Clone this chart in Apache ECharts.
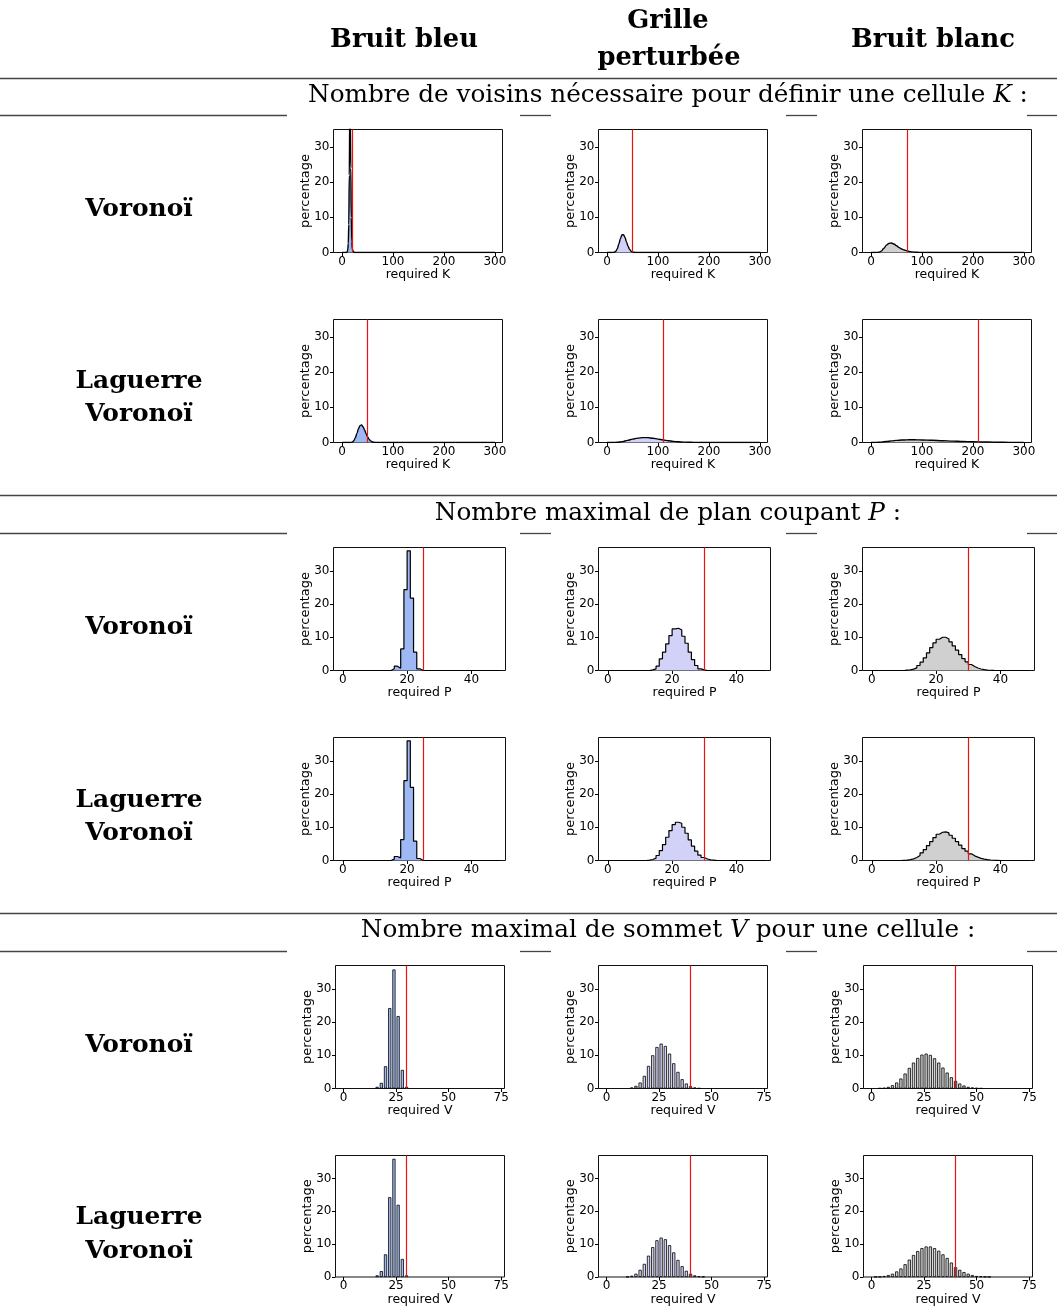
<!DOCTYPE html>
<html><head><meta charset="utf-8">
<script src="https://cdn.jsdelivr.net/npm/echarts@6/dist/echarts.min.js"></script>
<style>html,body{margin:0;padding:0;background:#fff;}#c{width:1057px;height:1307px;}</style>
</head><body><div id="c"></div>
<script>
// ---------- DATA ----------
const HEADERS = ['Bruit bleu', 'Grille', 'perturbée', 'Bruit blanc'];
const TITLES = [
  ['Nombre de voisins nécessaire pour définir une cellule ', 'K', ' :'],
  ['Nombre maximal de plan coupant ', 'P', ' :'],
  ['Nombre maximal de sommet ', 'V', ' pour une cellule :']
];
const ROW_LABELS = ['Voronoï', 'Laguerre', 'Voronoï'];

const K_TICKS = [0, 100, 200, 300];
const P_TICKS = [0, 20, 40];
const V_TICKS = [0, 25, 50, 75];
const Y_TICKS = [0, 10, 20, 30];

// K curves (required K -> percentage)
const K_VOR_BLEU_X = [0, 5, 8, 10, 11, 12, 13, 14, 15, 16, 17, 18, 19, 20, 22, 25, 40, 100, 200, 300];
const K_VOR_BLEU_Y = [0, 0, 0, 0.2, 0.8, 2.5, 8, 22, 40, 38, 24, 10, 3, 1, 0.2, 0, 0, 0, 0, 0];
const K_VOR_PERT_X = [0, 10, 14, 17, 20, 23, 26, 29, 32, 35, 38, 41, 44, 47, 50, 55, 60, 100, 200, 300];
const K_VOR_PERT_Y = [0, 0, 0.05, 0.35, 1.1, 2.4, 3.9, 5.0, 5.1, 4.3, 3.0, 1.8, 0.9, 0.35, 0.12, 0.02, 0, 0, 0, 0];
const K_VOR_BLANC_X = [0, 10, 15, 20, 25, 30, 35, 40, 45, 50, 55, 60, 65, 70, 75, 80, 90, 100, 200, 300];
const K_VOR_BLANC_Y = [0, 0, 0.05, 0.4, 1.2, 2.1, 2.6, 2.7, 2.4, 1.9, 1.4, 1.0, 0.7, 0.5, 0.3, 0.18, 0.05, 0, 0, 0];
const K_LAG_BLEU_X = [0, 15, 20, 23, 26, 29, 32, 35, 38, 41, 44, 47, 50, 53, 56, 60, 65, 100, 200, 300];
const K_LAG_BLEU_Y = [0, 0, 0.1, 0.5, 1.4, 2.6, 3.9, 4.8, 5.0, 4.5, 3.6, 2.5, 1.6, 0.9, 0.45, 0.15, 0.03, 0, 0, 0];
const K_LAG_PERT_X = [0, 10, 20, 30, 40, 50, 60, 70, 80, 90, 100, 110, 120, 130, 140, 150, 160, 170, 180, 200, 300];
const K_LAG_PERT_Y = [0, 0, 0.05, 0.25, 0.6, 0.95, 1.25, 1.4, 1.38, 1.2, 0.97, 0.72, 0.5, 0.33, 0.2, 0.12, 0.07, 0.04, 0.02, 0, 0];
const K_LAG_BLANC_X = [0, 10, 20, 30, 40, 50, 60, 70, 80, 90, 100, 120, 140, 160, 180, 200, 220, 240, 260, 280, 300];
const K_LAG_BLANC_Y = [0, 0.03, 0.12, 0.28, 0.45, 0.6, 0.7, 0.76, 0.78, 0.76, 0.72, 0.62, 0.5, 0.4, 0.3, 0.22, 0.15, 0.1, 0.06, 0.03, 0.02];

// P histograms: [bin start, percentage]
const P_VOR_BLEU = [[15,0.5],[16,1.3],[17,0.7],[18,6.5],[19,24.3],[20,36],[21,21.8],[22,5.5],[23,0.5]];
const P_VOR_PERT = [[13,0.2],[14,0.5],[15,1.3],[16,3.5],[17,5.5],[18,8],[19,10.5],[20,12.5],[21,12.7],[22,12.2],[23,10.3],[24,8.2],[25,5.5],[26,3.3],[27,1.5],[28,0.5],[29,0.2]];
const P_VOR_BLANC = [[10,0.1],[11,0.2],[12,0.4],[13,0.8],[14,1.5],[15,2.5],[16,3.8],[17,5.3],[18,6.9],[19,8.3],[20,9.4],[21,10.0],[22,10.0],[23,9.5],[24,8.6],[25,7.4],[26,6.1],[27,4.8],[28,3.6],[29,2.6],[30,1.8],[31,1.2],[32,0.75],[33,0.45],[34,0.25],[35,0.14],[36,0.07],[37,0.03]];
const P_LAG_BLEU = [[15,0.4],[16,1.2],[17,0.8],[18,6.3],[19,24],[20,36],[21,22],[22,5.8],[23,0.6]];
const P_LAG_PERT = [[12,0.1],[13,0.3],[14,0.7],[15,1.5],[16,3.0],[17,4.8],[18,7.0],[19,9.0],[20,10.8],[21,11.5],[22,11.2],[23,10.0],[24,8.2],[25,6.2],[26,4.3],[27,2.8],[28,1.6],[29,0.9],[30,0.45],[31,0.2],[32,0.1]];
const P_LAG_BLANC = [[9,0.05],[10,0.1],[11,0.25],[12,0.5],[13,0.9],[14,1.5],[15,2.3],[16,3.3],[17,4.5],[18,5.7],[19,6.9],[20,7.9],[21,8.5],[22,8.6],[23,8.3],[24,7.6],[25,6.7],[26,5.7],[27,4.6],[28,3.6],[29,2.8],[30,2.0],[31,1.4],[32,1.0],[33,0.65],[34,0.4],[35,0.25],[36,0.15],[37,0.08],[38,0.04]];
const P_BIN_COUNT = 49;

// V histograms: [vertex count, percentage]
const V_VOR_BLEU = [[16,0.5],[18,1.7],[20,6.7],[22,24.2],[24,35.8],[26,21.8],[28,5.6],[30,0.5]];
const V_VOR_PERT = [[12,0.3],[14,0.8],[16,1.8],[18,3.8],[20,6.8],[22,10],[24,12.5],[26,13.5],[28,12.8],[30,10.5],[32,7.6],[34,5],[36,2.8],[38,1.5],[40,0.7],[42,0.3],[44,0.1]];
const V_VOR_BLANC = [[4,0.1],[6,0.2],[8,0.5],[10,1.0],[12,1.8],[14,3.0],[16,4.5],[18,6.2],[20,7.8],[22,9.2],[24,10.2],[26,10.5],[28,10.1],[30,9.1],[32,7.8],[34,6.3],[36,4.8],[38,3.4],[40,2.3],[42,1.5],[44,0.9],[46,0.5],[48,0.3],[50,0.15],[52,0.08]];
const V_LAG_BLEU = [[16,0.5],[18,1.8],[20,6.9],[22,24.3],[24,36],[26,22],[28,5.5],[30,0.5]];
const V_LAG_PERT = [[10,0.1],[12,0.4],[14,1.0],[16,2.2],[18,4.0],[20,6.5],[22,9.1],[24,11.2],[26,12.0],[28,11.5],[30,9.7],[32,7.5],[34,5.2],[36,3.3],[38,1.9],[40,1.0],[42,0.5],[44,0.2],[46,0.1]];
const V_LAG_BLANC = [[2,0.05],[4,0.1],[6,0.3],[8,0.6],[10,1.0],[12,1.7],[14,2.6],[16,3.9],[18,5.3],[20,6.7],[22,7.9],[24,8.8],[26,9.3],[28,9.3],[30,8.8],[32,8.0],[34,6.9],[36,5.8],[38,4.4],[40,3.0],[42,2.2],[44,1.5],[46,1.0],[48,0.6],[50,0.3],[52,0.2],[54,0.1],[56,0.05]];

// red threshold lines
const K_LIMITS_VOR = [20, 50, 70];
const K_LIMITS_LAG = [50, 110, 210];
const P_LIMITS_VOR = [25, 30, 30];
const P_LIMITS_LAG = [25, 30, 30];
const V_LIMITS_VOR = [30, 40, 40];
const V_LIMITS_LAG = [30, 40, 40];

// ---------- LAYOUT / STYLE ----------
const FILL = ['#9db8f3', '#d2d2f8', '#d0d0d0'];
const SECT = {
  K: {tops: [129, 319], h: 123, lefts: [333, 598, 862], w: 169, xmin: -17, xmax: 315, ymax: 35, ticks: K_TICKS, name: 'required K'},
  P: {tops: [547, 737], h: 123, lefts: [333, 598, 862], w: 172, xmin: -2.9, xmax: 50.6, ymax: 37, ticks: P_TICKS, name: 'required P'},
  V: {tops: [965, 1155], h: 123, lefts: [335, 598, 863], w: 169, xmin: -3.8, xmax: 76.6, ymax: 37, ticks: V_TICKS, name: 'required V'}
};

const plots = [
  {s: 'K', r: 0, c: 0, x: K_VOR_BLEU_X, y: K_VOR_BLEU_Y, lim: K_LIMITS_VOR[0]},
  {s: 'K', r: 0, c: 1, x: K_VOR_PERT_X, y: K_VOR_PERT_Y, lim: K_LIMITS_VOR[1]},
  {s: 'K', r: 0, c: 2, x: K_VOR_BLANC_X, y: K_VOR_BLANC_Y, lim: K_LIMITS_VOR[2]},
  {s: 'K', r: 1, c: 0, x: K_LAG_BLEU_X, y: K_LAG_BLEU_Y, lim: K_LIMITS_LAG[0]},
  {s: 'K', r: 1, c: 1, x: K_LAG_PERT_X, y: K_LAG_PERT_Y, lim: K_LIMITS_LAG[1]},
  {s: 'K', r: 1, c: 2, x: K_LAG_BLANC_X, y: K_LAG_BLANC_Y, lim: K_LIMITS_LAG[2]},
  {s: 'P', r: 0, c: 0, d: P_VOR_BLEU, lim: P_LIMITS_VOR[0]},
  {s: 'P', r: 0, c: 1, d: P_VOR_PERT, lim: P_LIMITS_VOR[1]},
  {s: 'P', r: 0, c: 2, d: P_VOR_BLANC, lim: P_LIMITS_VOR[2]},
  {s: 'P', r: 1, c: 0, d: P_LAG_BLEU, lim: P_LIMITS_LAG[0]},
  {s: 'P', r: 1, c: 1, d: P_LAG_PERT, lim: P_LIMITS_LAG[1]},
  {s: 'P', r: 1, c: 2, d: P_LAG_BLANC, lim: P_LIMITS_LAG[2]},
  {s: 'V', r: 0, c: 0, d: V_VOR_BLEU, lim: V_LIMITS_VOR[0]},
  {s: 'V', r: 0, c: 1, d: V_VOR_PERT, lim: V_LIMITS_VOR[1]},
  {s: 'V', r: 0, c: 2, d: V_VOR_BLANC, lim: V_LIMITS_VOR[2]},
  {s: 'V', r: 1, c: 0, d: V_LAG_BLEU, lim: V_LIMITS_LAG[0]},
  {s: 'V', r: 1, c: 1, d: V_LAG_PERT, lim: V_LIMITS_LAG[1]},
  {s: 'V', r: 1, c: 2, d: V_LAG_BLANC, lim: V_LIMITS_LAG[2]}
];

const grids = [], xAxes = [], yAxes = [], series = [];
plots.forEach((p, i) => {
  const S = SECT[p.s];
  grids.push({left: S.lefts[p.c] + 0.5, top: S.tops[p.r] + 0.5, width: S.w, height: S.h,
    show: true, borderColor: '#111', borderWidth: 1, backgroundColor: 'rgba(0,0,0,0)'});
  xAxes.push({gridIndex: i, type: 'value', min: S.xmin, max: S.xmax,
    axisLine: {show: false, onZero: false}, splitLine: {show: false},
    axisTick: {show: true, customValues: S.ticks, length: 3.5, lineStyle: {color: '#000', width: 1}},
    axisLabel: {customValues: S.ticks, fontSize: 12, color: '#000', margin: 3, fontFamily: 'DejaVu Sans'},
    name: S.name, nameLocation: 'middle', nameGap: 16, nameMoveOverlap: false,
    nameTextStyle: {fontSize: 12.5, color: '#000', fontFamily: 'DejaVu Sans'}});
  yAxes.push({gridIndex: i, type: 'value', min: 0, max: S.ymax,
    axisLine: {show: false, onZero: false}, splitLine: {show: false},
    axisTick: {show: true, customValues: Y_TICKS, length: 3.5, lineStyle: {color: '#000', width: 1}},
    axisLabel: {customValues: Y_TICKS, fontSize: 12, color: '#000', margin: 4, fontFamily: 'DejaVu Sans'},
    name: 'percentage', nameLocation: 'middle', nameGap: 21, nameRotate: 90, nameMoveOverlap: false,
    nameTextStyle: {fontSize: 13, color: '#000', fontFamily: 'DejaVu Sans'}});
  const markLine = {silent: true, symbol: ['none', 'none'], label: {show: false}, animation: false,
    lineStyle: {color: '#ee1111', width: 1.2, type: 'solid'}, data: [{xAxis: p.lim}]};
  if (p.s === 'K') {
    series.push({type: 'line', xAxisIndex: i, yAxisIndex: i, data: p.x.map((x, j) => [x, p.y[j]]),
      smooth: 0.35, smoothMonotone: 'x', symbol: 'none', clip: true,
      lineStyle: {color: '#000', width: 1.4}, areaStyle: {color: FILL[p.c], opacity: 1}, markLine});
  } else if (p.s === 'P') {
    const vals = new Array(P_BIN_COUNT).fill(0);
    p.d.forEach(([b, v]) => { vals[b] = v; });
    const pts = vals.map((v, k) => [k, v]);
    pts.push([P_BIN_COUNT, 0]);
    series.push({type: 'line', step: 'end', xAxisIndex: i, yAxisIndex: i, data: pts,
      symbol: 'none', clip: true,
      lineStyle: {color: '#000', width: 1.2}, areaStyle: {color: FILL[p.c], opacity: 1}, markLine});
  } else {
    series.push({type: 'bar', xAxisIndex: i, yAxisIndex: i, data: p.d, barWidth: 3.2,
      itemStyle: {color: FILL[p.c], borderColor: '#000', borderWidth: 0.8}, markLine});
  }
});

// ---------- TEXT / RULES ----------
const mctx = document.createElement('canvas').getContext('2d');
function fit(text, weight, family, target) {
  mctx.font = weight + ' 100px ' + family;
  return 100 * target / mctx.measureText(text).width;
}
const SERIF = '"DejaVu Serif"';
const hSize = fit(HEADERS[3], 'bold', SERIF, 164);
const rSize = fit(ROW_LABELS[1], 'bold', SERIF, 127);
const tSize = fit(TITLES[0].join(''), 'normal', SERIF, 720);

const graphic = [];
function txt(t, x, y, size, weight, rich) {
  const st = {text: t, fontSize: size, fontFamily: 'DejaVu Serif', fontWeight: weight, fill: '#000',
    textAlign: 'center', textVerticalAlign: 'middle', align: 'center', verticalAlign: 'middle'};
  if (rich) st.rich = rich;
  graphic.push({type: 'text', x: x, y: y, style: st, z: 10});
}
function hline(y, x1, x2) {
  graphic.push({type: 'line', shape: {x1: x1, y1: y, x2: x2, y2: y}, style: {stroke: '#444', lineWidth: 1.3}, z: 1});
}
txt(HEADERS[0], 404, 40, hSize, 'bold');
txt(HEADERS[1], 668, 21, hSize, 'bold');
txt(HEADERS[2], 669, 58, hSize, 'bold');
txt(HEADERS[3], 933, 40, hSize, 'bold');

const titleY = [96, 514, 931];
const fullLineY = [78, 495, 913];
const segLineY = [115, 533, 951];
const SEGS = [[0, 287], [520, 551], [786, 817], [1027, 1057]];
TITLES.forEach((t, k) => {
  txt(t[0] + '{m|' + t[1] + '}' + t[2], 668, titleY[k], tSize, 'normal',
    {m: {fontStyle: 'italic', fontSize: tSize, fontFamily: 'DejaVu Serif'}});
  hline(fullLineY[k] + 0.5, 0, 1057);
  SEGS.forEach(sg => hline(segLineY[k] + 0.5, sg[0], sg[1]));
});
const rowSingleY = [209, 627, 1045];
const rowDoubleY = [[381, 414], [800, 833], [1217, 1251]];
rowSingleY.forEach(y => txt(ROW_LABELS[0], 139, y + 1, rSize, 'bold'));
rowDoubleY.forEach(([a, b]) => { txt(ROW_LABELS[1], 139, a + 1, rSize, 'bold'); txt(ROW_LABELS[2], 139, b + 1, rSize, 'bold'); });

const chart = echarts.init(document.getElementById('c'), null, {renderer: 'canvas'});
chart.setOption({
  animation: false,
  backgroundColor: '#fff',
  textStyle: {fontFamily: 'DejaVu Sans'},
  grid: grids, xAxis: xAxes, yAxis: yAxes, series: series, graphic: graphic
});
</script></body></html>
